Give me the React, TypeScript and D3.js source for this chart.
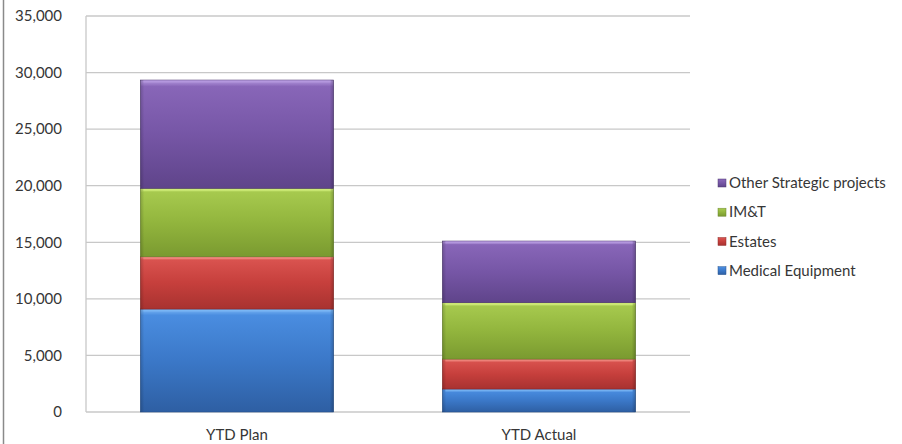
import React from "react";
import * as d3 from "d3";

const categories = ["YTD Plan", "YTD Actual"];
const seriesNames = ["Medical Equipment", "Estates", "IM&T", "Other Strategic projects"];
const medicalEquipment = [9100, 2030];
const estates = [4620, 2650];
const imt = [6050, 4980];
const otherStrategic = [9570, 5450];
const yTicks = [0, 5000, 10000, 15000, 20000, 25000, 30000, 35000];

const seriesValues = [medicalEquipment, estates, imt, otherStrategic];
const palette = [
  { top: "#4a8de0", mid: "#3b78c8", bot: "#2e5fa3", hi: "#7cb8f5", edge: "#25508c" },
  { top: "#d9534f", mid: "#c63f3c", bot: "#a83230", hi: "#f08a80", edge: "#8c2826" },
  { top: "#a6c94e", mid: "#92b53d", bot: "#7a9a30", hi: "#d0ec7a", edge: "#66822a" },
  { top: "#8866b8", mid: "#7656a6", bot: "#5f448a", hi: "#b69ae0", edge: "#4d3870" },
];

export default function App() {
  const W = 902, H = 444;
  const left = 86, right = 690, top = 16, bottom = 412;
  const x = d3.scaleBand<string>().domain(categories).range([left, right]).paddingInner(0.36).paddingOuter(0.18);
  const y = d3.scaleLinear().domain([0, 35000]).range([bottom, top]);

  const table = categories.map((c, i) => {
    const row: any = { cat: c };
    seriesNames.forEach((s, j) => (row[s] = seriesValues[j][i]));
    return row;
  });
  const stacked = d3.stack().keys(seriesNames)(table);
  const fmt = d3.format(",");
  const font = "Lato, 'Open Sans', sans-serif";
  const txt = "#363636";

  return (
    <svg width={W} height={H} style={{ position: "absolute", left: 0, top: 0, background: "#fff" }}>
      <defs>
        {palette.map((p, i) => (
          <linearGradient key={i} id={`g${i}`} x1="0" y1="0" x2="0" y2="1">
            <stop offset="0" stopColor={p.hi} />
            <stop offset="0.06" stopColor={p.top} />
            <stop offset="0.5" stopColor={p.mid} />
            <stop offset="1" stopColor={p.bot} />
          </linearGradient>
        ))}
        <linearGradient id="side" x1="0" y1="0" x2="1" y2="0">
          <stop offset="0" stopColor="#000" stopOpacity="0.18" />
          <stop offset="0.02" stopColor="#000" stopOpacity="0" />
          <stop offset="0.98" stopColor="#000" stopOpacity="0" />
          <stop offset="1" stopColor="#000" stopOpacity="0.22" />
        </linearGradient>
      </defs>
      <rect x={0} y={0} width={W} height={H} fill="#fff" />
      <line x1={3.5} y1={0} x2={3.5} y2={H} stroke="#8a8a8a" strokeWidth={1.5} />
      {yTicks.map((t) => (
        <g key={t}>
          <line x1={left} x2={right} y1={y(t)} y2={y(t)} stroke="#c8c8c8" strokeWidth={1.3} />
          <text x={62} y={y(t)} dy="0.35em" textAnchor="end" fontFamily={font} fontSize={15} fill={txt}>
            {fmt(t)}
          </text>
        </g>
      ))}
      <line x1={left} x2={left} y1={top} y2={bottom} stroke="#c8c8c8" strokeWidth={1.3} />
      {stacked.map((layer, j) => (
        <g key={j}>
          {layer.map((d: any, i: number) => {
            const bx = x(categories[i])!;
            const bw = x.bandwidth();
            const y0 = y(d[1]);
            const h = y(d[0]) - y(d[1]);
            return (
              <g key={i}>
                <rect x={bx} y={y0} width={bw} height={h} fill={`url(#g${j})`} stroke={palette[j].edge} strokeWidth={0.6} />
                <rect x={bx} y={y0} width={bw} height={h} fill="url(#side)" />
                <line x1={bx + 3} x2={bx + bw - 3} y1={y0 + 1.5} y2={y0 + 1.5} stroke={palette[j].hi} strokeWidth={2} opacity={0.8} />
              </g>
            );
          })}
        </g>
      ))}
      {categories.map((c) => (
        <text key={c} x={x(c)! + x.bandwidth() / 2} y={435} dy="0.35em" textAnchor="middle" fontFamily={font} fontSize={15} fill={txt}>
          {c}
        </text>
      ))}
      {seriesNames
        .slice()
        .reverse()
        .map((s, k) => {
          const j = seriesNames.length - 1 - k;
          const ly = 183 + k * 29.2;
          return (
            <g key={s}>
              <rect x={718} y={ly - 4} width={8} height={8} fill={`url(#g${j})`} stroke={palette[j].edge} strokeWidth={0.5} />
              <text x={729} y={ly} dy="0.35em" fontFamily={font} fontSize={15} fill={txt}>
                {s}
              </text>
            </g>
          );
        })}
    </svg>
  );
}
